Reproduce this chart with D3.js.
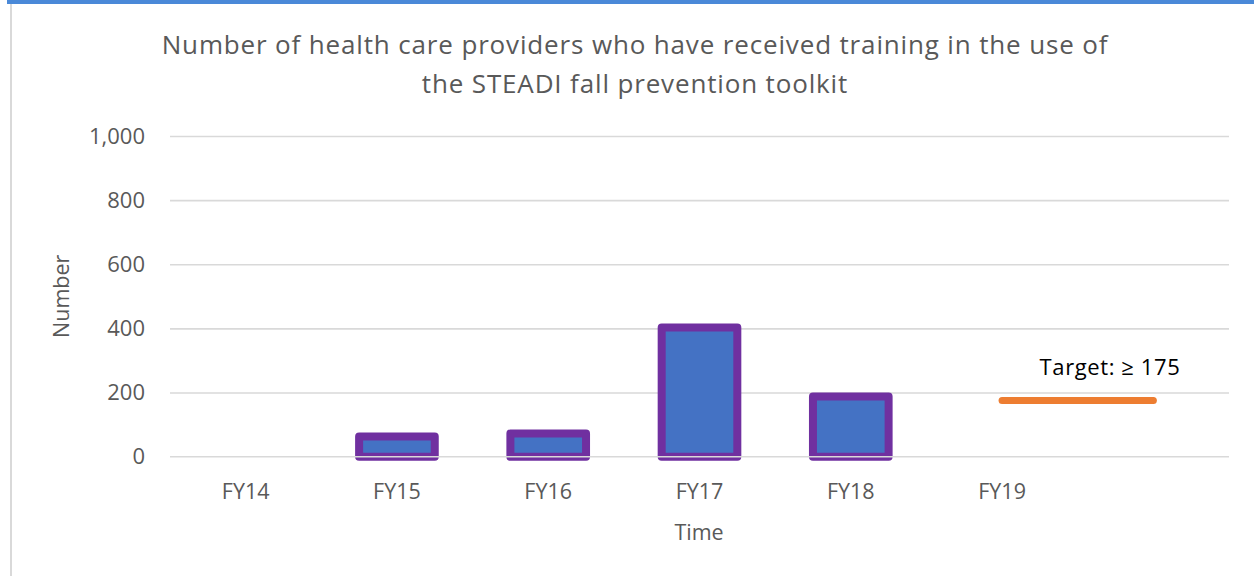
<!DOCTYPE html>
<html>
<head>
<meta charset="utf-8">
<script src="https://cdn.jsdelivr.net/npm/d3@7"></script>
<style>
  html, body { margin: 0; padding: 0; background: #fff; }
  text { font-family: 'Open Sans', 'Noto Sans', sans-serif; }
</style>
</head>
<body>
<div id="chart"></div>
<script>
(function() {
const categories = ['FY14', 'FY15', 'FY16', 'FY17', 'FY18', 'FY19', '']
const providers = [null, 63, 72, 403, 188, null, null]
const target = [null, null, null, null, null, 175, 175]
const yTicks = [0, 200, 400, 600, 800, 1000]
const titleLines = ['Number of health care providers who have received training in the use of',
                    'the STEADI fall prevention toolkit']
const targetLabel = 'Target: \u2265 175'

const width = 1254,
      height = 576

const plot = { left: 170, right: 1229, top: 136, bottom: 456.7 }

const svg = d3.select('#chart')
  .append('svg')
  .attr('width', width)
  .attr('height', height)

// frame edges
svg.append('rect')
  .attr('x', 7).attr('y', 0)
  .attr('width', width - 7).attr('height', 4)
  .attr('fill', '#4a89d8')
svg.append('line')
  .attr('x1', 11).attr('x2', 11)
  .attr('y1', 4).attr('y2', height)
  .attr('stroke', '#d9d9d9')
  .attr('stroke-width', 2)

const x = d3.scaleBand()
  .domain(categories)
  .range([plot.left, plot.right])
  .paddingInner(0.5)
  .paddingOuter(0.25)

const y = d3.scaleLinear()
  .domain([0, 1000])
  .range([plot.bottom, plot.top])

// gridlines (zero line drawn later, over the bars)
svg.append('g')
  .attr('transform', 'translate(' + plot.left + ',0)')
  .call(d3.axisLeft(y).tickValues(yTicks.filter(t => t > 0)).tickSize(-(plot.right - plot.left)).tickFormat(''))
  .call(g => g.select('.domain').remove())
  .call(g => g.selectAll('line').attr('stroke', '#d9d9d9').attr('stroke-width', 1.6))

// y tick labels
svg.append('g')
  .attr('transform', 'translate(145,0)')
  .call(d3.axisLeft(y).tickValues(yTicks).tickSize(0).tickPadding(0).tickFormat(d3.format(',')))
  .call(g => g.select('.domain').remove())
  .call(g => g.selectAll('text')
    .attr('fill', '#595959')
    .style('font-size', '22px')
    .style('font-family', "'Open Sans', sans-serif"))

// x tick labels
svg.append('g')
  .attr('transform', 'translate(0,' + plot.bottom + ')')
  .call(d3.axisBottom(x).tickSize(0).tickPadding(0))
  .call(g => g.select('.domain').remove())
  .call(g => g.selectAll('text')
    .attr('y', 42)
    .attr('dy', 0)
    .attr('fill', '#595959')
    .style('font-size', '21.5px')
    .style('font-family', "'Open Sans', sans-serif"))

// bars
const barData = categories.map((c, i) => ({ cat: c, value: providers[i] }))
  .filter(d => d.value != null)

svg.selectAll('.bar')
  .data(barData)
  .enter().append('rect')
  .attr('class', 'bar')
  .attr('x', d => x(d.cat))
  .attr('width', x.bandwidth())
  .attr('y', d => y(d.value))
  .attr('height', d => y(0) - y(d.value))
  .attr('fill', '#4472c4')
  .attr('stroke', '#7030a0')
  .attr('stroke-width', 8)
  .attr('stroke-linejoin', 'round')

// category axis line
svg.append('line')
  .attr('x1', plot.left).attr('x2', plot.right)
  .attr('y1', y(0)).attr('y2', y(0))
  .attr('stroke', '#d9d9d9')
  .attr('stroke-width', 1.6)

// target line
const targetData = categories.map((c, i) => ({ cat: c, value: target[i] }))
  .filter(d => d.value != null)

const line = d3.line()
  .x(d => x(d.cat) + x.bandwidth() / 2)
  .y(d => y(d.value))

svg.append('path')
  .datum(targetData)
  .attr('d', line)
  .attr('fill', 'none')
  .attr('stroke', '#ed7d31')
  .attr('stroke-width', 7)
  .attr('stroke-linecap', 'round')

svg.append('text')
  .attr('x', 1110)
  .attr('y', 375)
  .attr('text-anchor', 'middle')
  .attr('fill', '#000')
  .style('font-size', '22px')
  .style('letter-spacing', '0.6px')
  .text(targetLabel)

// title
svg.selectAll('.title')
  .data(titleLines)
  .enter().append('text')
  .attr('class', 'title')
  .attr('x', 635)
  .attr('y', (d, i) => 54 + i * 38.5)
  .attr('text-anchor', 'middle')
  .attr('fill', '#595959')
  .style('font-size', '26px')
  .style('letter-spacing', '0.85px')
  .text(d => d)

// axis titles
svg.append('text')
  .attr('x', 699)
  .attr('y', 540)
  .attr('text-anchor', 'middle')
  .attr('fill', '#595959')
  .style('font-size', '21.5px')
  .text('Time')

svg.append('text')
  .attr('transform', 'translate(69,' + (plot.top + plot.bottom) / 2 + ') rotate(-90)')
  .attr('text-anchor', 'middle')
  .attr('fill', '#595959')
  .style('font-size', '21.5px')
  .text('Number')

})()
</script>
</body>
</html>
